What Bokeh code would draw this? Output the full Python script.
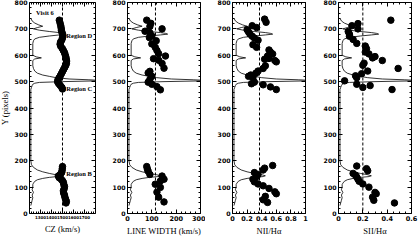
from bokeh.plotting import figure
from bokeh.layouts import row
from bokeh.models import Range1d, LinearAxis, Span, Label, FixedTicker
from bokeh.embed import file_html
from bokeh.resources import INLINE

# ---------------- data ----------------
# CZ panel
cz_y = [733, 722, 712, 703, 695, 688, 681, 674, 666, 658, 650, 642, 634, 626, 618, 610, 602, 594,
        586, 578, 570, 562, 554, 546, 538, 530, 522, 514, 506, 499, 492, 485, 478, 472,
        178, 170, 162, 155, 148, 142, 136, 130, 124, 118, 110, 102, 94, 86, 78, 70, 62, 54, 46, 40]
cz_v = [1471, 1478, 1484, 1488, 1490, 1494, 1500, 1504, 1500, 1494, 1482, 1478, 1484, 1498, 1508,
        1518, 1524, 1530, 1534, 1537, 1536, 1530, 1520, 1510, 1500, 1490, 1480, 1468, 1458, 1456,
        1466, 1480, 1494, 1500,
        1500, 1498, 1496, 1492, 1480, 1462, 1470, 1488, 1500, 1508, 1512, 1518, 1515, 1508, 1510,
        1518, 1522, 1528, 1535, 1532]

# line width panel
lw_y = [733, 721, 709, 700, 691, 685, 673, 667, 655, 643, 630, 618, 606, 597, 587, 581, 569, 551,
        539, 533, 520, 508, 498, 490, 481, 469,
        178, 168, 160, 148, 142, 130, 123, 111, 99, 81, 62, 44]
lw_v = [79, 96, 92, 142, 72, 92, 100, 90, 118, 100, 114, 121, 128, 156, 107, 128, 142, 150,
        92, 85, 100, 92, 85, 100, 121, 135,
        79, 82, 85, 92, 142, 150, 135, 114, 135, 121, 128, 150]

# NII/Halpha panel
n2_y = [737, 725, 712, 705, 697, 688, 680, 672, 665, 657, 640, 630, 620, 612, 605, 597, 588, 580,
        575, 585, 560, 550, 540, 532, 525, 520, 515, 498, 492, 488, 480, 470,
        182, 172, 165, 155, 148, 140, 130, 120, 112, 105, 95, 82, 75, 65, 52, 42]
n2_v = [0.44, 0.46, 0.27, 0.33, 0.20, 0.22, 0.24, 0.27, 0.30, 0.35, 0.28, 0.33, 0.50, 0.52, 0.55,
        0.48, 0.50, 0.58, 0.60, 0.44, 0.45, 0.42, 0.35, 0.32, 0.25, 0.22, 0.28, 0.30, 0.26, 0.42,
        0.52, 0.60,
        0.55, 0.44, 0.42, 0.30, 0.35, 0.33, 0.28, 0.30, 0.35, 0.42, 0.50, 0.58, 0.60, 0.45, 0.42,
        0.48]

# SII/Halpha panel
s2_y = [733, 720, 712, 700, 690, 680, 672, 660, 645, 635, 625, 612, 605, 595, 590, 580, 570, 562,
        550, 540, 530, 522, 515, 503, 490, 485, 478, 470,
        180, 170, 162, 152, 145, 138, 130, 122, 112, 100, 80, 75, 62, 50, 40]
s2_v = [0.43, 0.16, 0.11, 0.16, 0.08, 0.09, 0.09, 0.12, 0.15, 0.22, 0.23, 0.22, 0.25, 0.30, 0.28,
        0.36, 0.21, 0.20, 0.49, 0.24, 0.19, 0.14, 0.15, 0.05, 0.15, 0.26, 0.20, 0.44,
        0.15, 0.23, 0.24, 0.12, 0.14, 0.15, 0.16, 0.17, 0.20, 0.25, 0.30, 0.31, 0.28, 0.29, 0.46]

# slit intensity profile (fraction of panel width) vs Y
prof_y = [740, 730, 722, 715, 710, 705, 700, 695, 690, 686, 683, 680, 677, 673, 668, 662, 655, 645,
          620, 600, 594, 590, 586, 580, 560, 550, 540, 532, 525, 520, 515, 510, 507, 505, 503, 500,
          497, 494, 490, 485, 478, 470, 400, 300, 200, 185, 175, 165, 158, 152, 147, 143, 140, 137,
          133, 128, 122, 115, 110, 100, 90, 80, 70, 60, 50, 40, 30]
prof_f = [0.02, 0.04, 0.08, 0.14, 0.20, 0.12, 0.06, 0.15, 0.30, 0.45, 0.52, 0.55, 0.45, 0.30, 0.15,
          0.08, 0.06, 0.05, 0.05, 0.05, 0.10, 0.18, 0.08, 0.05, 0.05, 0.06, 0.08, 0.12, 0.20, 0.30,
          0.40, 0.60, 0.90, 1.05, 1.05, 0.50, 0.15, 0.08, 0.05, 0.04, 0.03, 0.02, 0.02, 0.02, 0.02,
          0.03, 0.06, 0.12, 0.20, 0.30, 0.40, 0.45, 0.42, 0.30, 0.20, 0.12, 0.08, 0.06, 0.05, 0.05,
          0.04, 0.06, 0.04, 0.05, 0.04, 0.03, 0.02]

y_ticks = [0, 100, 200, 300, 400, 500, 600, 700, 800]

TICKF = "DejaVu Sans"
LABF = "Liberation Serif"


def panel(xr, xticks, xminor, labels, xlabel, xs, ys, dash_x, bl, br, first=False, xfs="6.5px"):
    w = bl + 73 + br
    p = figure(width=w, height=241, x_range=Range1d(*xr), y_range=Range1d(0, 800),
               output_backend="svg", toolbar_location=None,
               min_border_left=bl, min_border_right=br, min_border_top=5, min_border_bottom=21,
               x_axis_label=xlabel, y_axis_label=("Y (pixels)" if first else None))
    p.extra_x_ranges = {"prof": Range1d(0, 1)}
    p.grid.visible = False
    p.outline_line_color = "black"
    p.outline_line_width = 1
    p.background_fill_color = "white"
    p.border_fill_color = "white"

    ymin = [v for v in range(0, 801, 20) if v % 100]
    for ax in p.xaxis:
        ax.ticker = FixedTicker(ticks=xticks, minor_ticks=xminor)
        ax.major_label_overrides = labels
        ax.major_label_text_font_size = xfs
    for ax in p.yaxis:
        ax.ticker = FixedTicker(ticks=y_ticks, minor_ticks=ymin)
        ax.major_label_text_font_size = "6.2px"
    for ax in list(p.xaxis) + list(p.yaxis):
        ax.major_label_text_font = TICKF
        ax.major_label_text_font_style = "bold"
        ax.major_label_text_color = "black"
        ax.major_label_standoff = 2
        ax.axis_label_text_font = LABF
        ax.axis_label_text_font_style = "normal"
        ax.axis_label_text_font_size = "8.5px"
        ax.axis_label_text_color = "black"
        ax.axis_label_standoff = 2
        ax.axis_line_color = None
        ax.major_tick_in = 4
        ax.major_tick_out = 0
        ax.minor_tick_in = 2
        ax.minor_tick_out = 0
        ax.major_tick_line_color = "black"
        ax.minor_tick_line_color = "black"

    # mirrored ticks on top and right
    top = LinearAxis(ticker=FixedTicker(ticks=xticks, minor_ticks=xminor),
                     major_label_text_font_size="0px", major_label_standoff=0,
                     axis_line_color=None, major_tick_in=4, major_tick_out=0,
                     minor_tick_in=2, minor_tick_out=0,
                     major_tick_line_color="black", minor_tick_line_color="black")
    p.add_layout(top, "above")
    right = LinearAxis(ticker=FixedTicker(ticks=y_ticks, minor_ticks=ymin),
                       major_label_text_font_size="0px", major_label_standoff=0,
                       axis_line_color=None, major_tick_in=4, major_tick_out=0,
                       minor_tick_in=2, minor_tick_out=0,
                       major_tick_line_color="black", minor_tick_line_color="black")
    p.add_layout(right, "right")

    p.line(prof_f, prof_y, x_range_name="prof", line_color="black", line_width=0.8)
    p.add_layout(Span(location=dash_x, dimension="height", line_color="black",
                      line_width=1, line_dash="3 2"))
    p.scatter(xs, ys, size=6.5, fill_color="black", line_color="black")
    return p


p1 = panel((1200, 1800), [1300, 1400, 1500, 1600, 1700],
           [v for v in range(1200, 1801, 20) if v % 100], {},
           "CZ (km/s)", cz_v, cz_y, 1500, 26, 5, first=True, xfs="4px")
lab = dict(text_font=LABF, text_font_size="6.5px", text_font_style="bold", text_color="black")
p1.add_layout(Label(x=1260, y=748, text="Visit 6", **lab))
p1.add_layout(Label(x=1535, y=663, text="Region D", **lab))
p1.add_layout(Label(x=1535, y=462, text="Region C", **lab))
p1.add_layout(Label(x=1535, y=138, text="Region B", **lab))

p2 = panel((0, 300), [0, 100, 200, 300], [v for v in range(0, 301, 20) if v % 100], {},
           "LINE WIDTH (km/s)", lw_v, lw_y, 115, 27, 5)
p3 = panel((0, 1), [0, 0.2, 0.4, 0.6, 0.8, 1.0], [i * 0.05 for i in range(21)],
           {0: "0", 1: "1"}, "NII/Hα", n2_v, n2_y, 0.37, 27, 5)
p4 = panel((0, 0.6), [0, 0.2, 0.4, 0.6], [i * 0.05 for i in range(13)],
           {0: "0"}, "SII/Hα", s2_v, s2_y, 0.2, 28, 7)

layout = row(p1, p2, p3, p4, spacing=0, margin=(-3, 0, 0, -4))

open("out.html", "w").write(file_html(layout, INLINE))
